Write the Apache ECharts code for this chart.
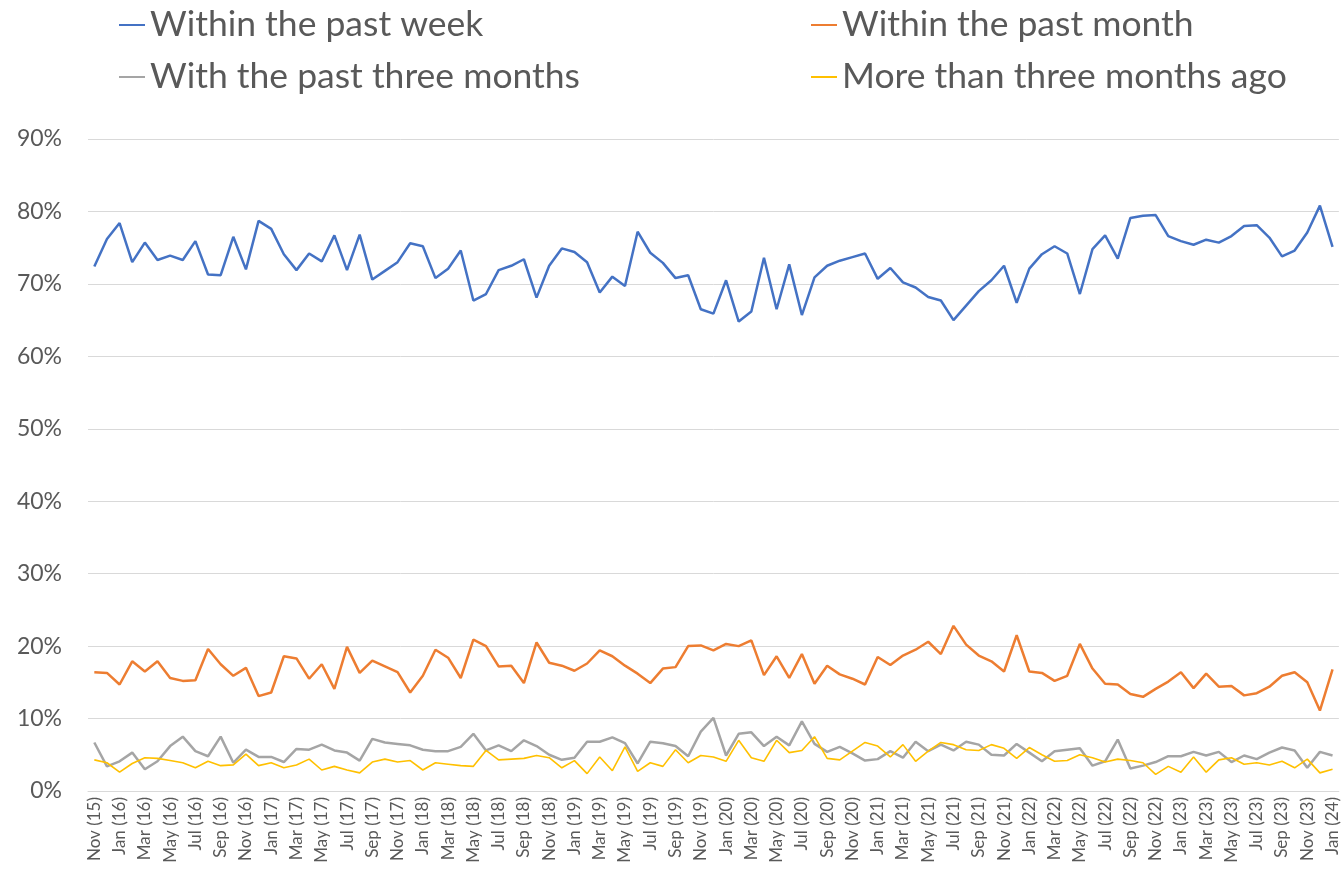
<!DOCTYPE html>
<html>
<head>
<meta charset="utf-8">
<script src="https://cdn.jsdelivr.net/npm/echarts@6/dist/echarts.min.js"></script>
<style>
  html, body { margin: 0; padding: 0; background: #fff; }
  #chart { width: 1341px; height: 876px; }
</style>
</head>
<body>
<div id="chart"></div>
<script>
// monthly, Nov 2015 .. Jan 2024
const monthNames = ["Jan", "Feb", "Mar", "Apr", "May", "Jun", "Jul", "Aug", "Sep", "Oct", "Nov", "Dec"];
const categories = [];
for (let k = 0; k < 99; k++) {
  const m = (10 + k) % 12;
  const y = 15 + Math.floor((10 + k) / 12);
  categories.push(monthNames[m] + " (" + y + ")");
}

const pastWeek = [
  72.4, 76.2, 78.4, 73.0, 75.7, 73.3, 73.9, 73.3, 75.9, 71.3,
  71.2, 76.5, 72.0, 78.7, 77.6, 74.1, 71.9, 74.2, 73.1, 76.7,
  71.9, 76.8, 70.6, 71.8, 73.0, 75.6, 75.2, 70.8, 72.1, 74.6,
  67.7, 68.6, 71.9, 72.5, 73.4, 68.1, 72.5, 74.9, 74.4, 73.0,
  68.8, 71.0, 69.7, 77.2, 74.3, 72.9, 70.8, 71.2, 66.5, 65.9,
  70.5, 64.8, 66.2, 73.6, 66.5, 72.7, 65.7, 70.9, 72.5, 73.2,
  73.7, 74.2, 70.7, 72.2, 70.2, 69.5, 68.2, 67.7, 65.0, 67.0,
  69.0, 70.5, 72.5, 67.4, 72.1, 74.1, 75.2, 74.2, 68.6, 74.8,
  76.7, 73.5, 79.1, 79.4, 79.5, 76.6, 75.9, 75.4, 76.1, 75.7,
  76.6, 78.0, 78.1, 76.4, 73.8, 74.6, 77.1, 80.8, 75.1
];

const pastMonth = [
  16.4, 16.3, 14.7, 17.9, 16.5, 17.9, 15.6, 15.2, 15.3, 19.6,
  17.5, 15.9, 17.0, 13.1, 13.6, 18.6, 18.3, 15.5, 17.5, 14.1,
  19.9, 16.3, 18.0, 17.2, 16.4, 13.6, 15.9, 19.5, 18.4, 15.6,
  20.9, 20.0, 17.2, 17.3, 14.9, 20.5, 17.7, 17.3, 16.6, 17.6,
  19.4, 18.6, 17.3, 16.2, 14.9, 16.9, 17.1, 20.0, 20.1, 19.4,
  20.3, 20.0, 20.8, 16.0, 18.6, 15.6, 18.9, 14.8, 17.3, 16.1,
  15.5, 14.7, 18.5, 17.4, 18.7, 19.5, 20.6, 18.9, 22.8, 20.2,
  18.7, 17.9, 16.5, 21.5, 16.5, 16.3, 15.2, 15.9, 20.3, 16.9,
  14.8, 14.7, 13.4, 13.0, 14.1, 15.1, 16.4, 14.2, 16.2, 14.4,
  14.5, 13.2, 13.5, 14.4, 15.9, 16.4, 15.0, 11.1, 16.8
];

const pastThreeMonths = [
  6.7, 3.4, 4.1, 5.3, 3.0, 4.1, 6.2, 7.5, 5.5, 4.8,
  7.5, 3.9, 5.7, 4.7, 4.7, 4.0, 5.8, 5.7, 6.4, 5.6,
  5.3, 4.2, 7.2, 6.7, 6.5, 6.3, 5.7, 5.5, 5.5, 6.1,
  7.9, 5.6, 6.3, 5.5, 7.0, 6.2, 5.0, 4.3, 4.6, 6.8,
  6.8, 7.4, 6.6, 3.8, 6.8, 6.6, 6.2, 4.8, 8.2, 10.1,
  4.9, 7.9, 8.1, 6.2, 7.5, 6.3, 9.6, 6.5, 5.4, 6.1,
  5.2, 4.2, 4.4, 5.5, 4.6, 6.8, 5.5, 6.4, 5.6, 6.8,
  6.4, 5.0, 4.9, 6.5, 5.3, 4.1, 5.5, 5.7, 5.9, 3.5,
  4.1, 7.1, 3.1, 3.5, 4.0, 4.8, 4.8, 5.4, 4.9, 5.4,
  4.0, 4.9, 4.4, 5.3, 6.0, 5.6, 3.2, 5.4, 4.9
];

const moreThanThree = [
  4.3, 3.9, 2.6, 3.8, 4.6, 4.5, 4.2, 3.9, 3.2, 4.1,
  3.5, 3.6, 5.1, 3.5, 3.9, 3.2, 3.6, 4.4, 2.9, 3.4,
  2.9, 2.5, 4.0, 4.4, 4.0, 4.2, 2.9, 3.9, 3.7, 3.5,
  3.4, 5.6, 4.3, 4.4, 4.5, 4.9, 4.6, 3.2, 4.2, 2.4,
  4.7, 2.8, 6.1, 2.7, 3.9, 3.4, 5.7, 3.9, 4.9, 4.7,
  4.1, 7.0, 4.6, 4.1, 7.0, 5.3, 5.6, 7.5, 4.5, 4.3,
  5.5, 6.7, 6.2, 4.7, 6.4, 4.1, 5.5, 6.7, 6.4, 5.7,
  5.6, 6.4, 5.9, 4.5, 6.0, 5.0, 4.1, 4.2, 5.0, 4.6,
  4.0, 4.4, 4.2, 3.9, 2.3, 3.4, 2.6, 4.7, 2.6, 4.3,
  4.6, 3.7, 3.9, 3.6, 4.1, 3.2, 4.4, 2.5, 3.0
];

const seriesNames = [
  "Within the past week",
  "Within the past month",
  "With the past three months",
  "More than three months ago"
];
const colors = ["#4472C4", "#ED7D31", "#A5A5A5", "#FFC000"];

const textColor = "#595959";
const fontFamily = "Lato, 'Noto Sans', sans-serif";

const chart = echarts.init(document.getElementById("chart"));

const legendPos = [
  { left: 114, top: 2 },
  { left: 806, top: 2 },
  { left: 114, top: 54 },
  { left: 806, top: 54 }
];

chart.setOption({
  animation: false,
  color: colors,
  textStyle: { fontFamily: fontFamily },
  legend: seriesNames.map((name, i) => ({
    data: [name],
    left: legendPos[i].left,
    top: legendPos[i].top,
    icon: "rect",
    itemWidth: 26,
    itemHeight: 2,
    textStyle: { color: textColor, fontSize: 35.5, fontFamily: fontFamily }
  })),
  grid: {
    left: 88,
    width: 1260,
    top: 139,
    bottom: 85,
    containLabel: false
  },
  xAxis: {
    type: "category",
    data: categories,
    boundaryGap: true,
    axisLine: { show: true, lineStyle: { color: "#d9d9d9", width: 1 } },
    axisTick: { show: false },
    axisLabel: {
      interval: 1,
      rotate: 90,
      color: textColor,
      fontSize: 17,
      margin: 6
    }
  },
  yAxis: {
    type: "value",
    min: 0,
    max: 90,
    interval: 10,
    axisLine: { show: false },
    axisTick: { show: false },
    axisLabel: {
      color: textColor,
      fontSize: 23,
      margin: 26,
      formatter: "{value}%"
    },
    splitLine: { lineStyle: { color: "#d9d9d9", width: 1 } }
  },
  series: [
    { name: seriesNames[0], type: "line", data: pastWeek, showSymbol: false, lineStyle: { width: 2.5 } },
    { name: seriesNames[1], type: "line", data: pastMonth, showSymbol: false, lineStyle: { width: 2.5 } },
    { name: seriesNames[2], type: "line", data: pastThreeMonths, showSymbol: false, lineStyle: { width: 2.5 } },
    { name: seriesNames[3], type: "line", data: moreThanThree, showSymbol: false, lineStyle: { width: 1.6 } }
  ]
});
</script>
</body>
</html>
